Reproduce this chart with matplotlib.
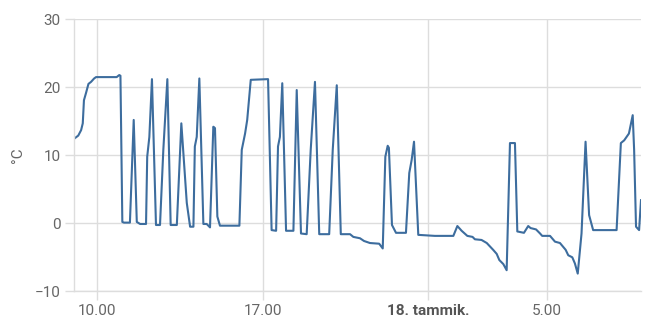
import matplotlib.pyplot as plt

# hours since midnight 17.1., temperature in °C
hours = [9.07, 9.22, 9.34, 9.41, 9.46, 9.55, 9.65, 9.76, 9.89, 9.97,
         10.84, 10.95, 11.0, 11.08, 11.15, 11.4, 11.56, 11.69, 11.83, 12.08,
         12.13, 12.22, 12.33, 12.5, 12.67, 12.81, 12.98, 13.12, 13.38, 13.57,
         13.8, 13.94, 14.08, 14.14, 14.22, 14.33, 14.5, 14.64, 14.78, 14.92,
         14.99, 15.09, 15.2, 16.02, 16.12, 16.26, 16.35, 16.5, 17.23, 17.38,
         17.57, 17.65, 17.73, 17.83, 17.99, 18.3, 18.44, 18.62, 18.86, 19.03,
         19.21, 19.39, 19.81, 19.96, 20.13, 20.3, 20.69, 20.83, 21.11, 21.28,
         21.53, 21.92, 22.07, 22.18, 22.28, 22.33, 22.46, 22.63, 23.05, 23.19,
         23.29, 23.39, 23.57, 24.27, 25.05, 25.22, 25.4, 25.64, 25.86, 25.96,
         26.24, 26.46, 26.73, 26.88, 26.99, 27.16, 27.3, 27.44, 27.65, 27.75,
         28.03, 28.21, 28.31, 28.54, 28.71, 28.8, 29.13, 29.34, 29.55, 29.79,
         29.9, 30.07, 30.18, 30.3, 30.46, 30.57, 30.63, 30.78, 30.95, 31.94,
         32.12, 32.26, 32.46, 32.62, 32.68, 32.76, 32.89, 32.97]
temps = [12.5, 12.9, 13.7, 14.7, 18.1, 19.2, 20.5, 20.8, 21.3, 21.5,
         21.5, 21.8, 21.7, 0.2, 0.1, 0.1, 15.2, 0.2, -0.1, -0.1,
         9.8, 12.7, 21.2, -0.25, -0.25, 10.8, 21.2, -0.25, -0.25, 14.7,
         3.0, -0.5, -0.5, 11.3, 12.7, 21.3, -0.1, -0.1, -0.6, 14.2,
         14.0, 1.0, -0.35, -0.35, 10.8, 13.2, 15.2, 21.1, 21.2, -1.0,
         -1.1, 11.3, 12.7, 20.6, -1.1, -1.1, 19.6, -1.5, -1.6, 10.8,
         20.8, -1.6, -1.6, 10.8, 20.3, -1.6, -1.6, -2.0, -2.2, -2.6,
         -2.9, -3.0, -3.7, 9.8, 11.4, 11.1, -0.25, -1.4, -1.4, 7.4,
         9.3, 12.0, -1.7, -1.85, -1.85, -0.4, -1.1, -1.85, -2.0, -2.35,
         -2.45, -2.9, -3.9, -4.5, -5.4, -6.0, -6.9, 11.8, 11.8, -1.2,
         -1.4, -0.4, -0.7, -0.9, -1.5, -1.85, -1.85, -2.7, -2.9, -3.9,
         -4.7, -5.0, -5.9, -7.4, -1.5, 7.4, 12.0, 1.2, -1.0, -1.0,
         11.8, 12.2, 13.2, 15.9, 10.8, -0.5, -1.0, 3.4]

tick_pos = [10, 17, 24, 29]
tick_labels = ["10.00", "17.00", "18. tammik.", "5.00"]
y_ticks = [-10, 0, 10, 20, 30]

plt.rcParams['font.family'] = ['Roboto', 'DejaVu Sans']
text_color = '#666666'
grid_color = '#dddddd'

fig = plt.figure(figsize=(6.55, 3.28), dpi=100)
ax = fig.add_axes([74 / 655, 1 - 291.3 / 328, 567 / 655, 272 / 328])

ax.plot(hours, temps, color='#3d6d9e', linewidth=1.5, solid_joinstyle='round')

ax.set_xlim(9.04, 32.97)
ax.set_ylim(-10, 30)
ax.set_xticks(tick_pos)
ax.set_xticklabels(tick_labels)
ax.set_yticks(y_ticks)
ax.grid(True, color=grid_color, linewidth=1)
ax.set_axisbelow(True)

for side in ['top', 'right']:
    ax.spines[side].set_visible(False)
for side in ['left', 'bottom']:
    ax.spines[side].set_color(grid_color)
    ax.spines[side].set_linewidth(1)

ax.tick_params(axis='both', colors=grid_color, labelcolor=text_color,
               labelsize=11, length=6.5, width=1)
ax.tick_params(axis='x', pad=3)
ax.tick_params(axis='y', pad=3)
for lbl in ax.get_xticklabels():
    if lbl.get_text() == "18. tammik.":
        lbl.set_fontweight('bold')
        lbl.set_color('#555555')

ax.set_ylabel("°C", color=text_color, fontsize=11, labelpad=7)

fig.savefig("out.png", dpi=100)
